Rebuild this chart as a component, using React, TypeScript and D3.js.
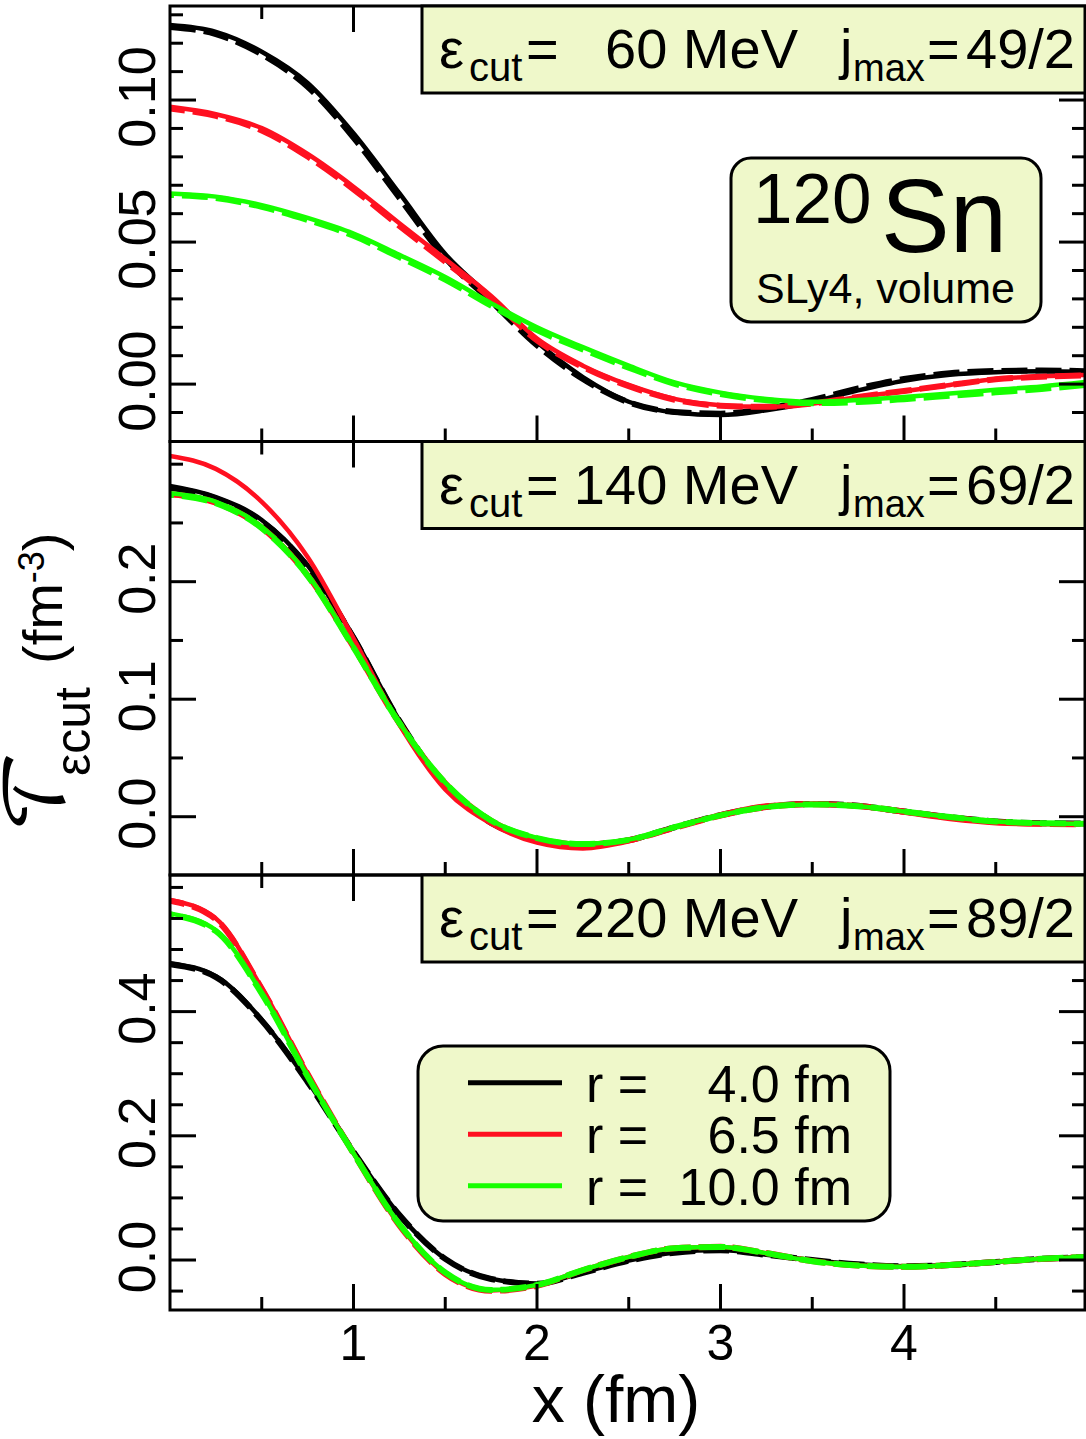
import React from "react";
import * as d3 from "d3";

// Sample positions along x (fm)
const xGrid = [0, 0.25, 0.5, 0.75, 1, 1.25, 1.5, 1.75, 2, 2.25, 2.5, 2.75, 3, 3.25, 3.5, 3.75, 4, 4.25, 4.5, 4.75, 5];

// Panel 1: ecut = 60 MeV
const p1Solid40 = [0.1264, 0.124, 0.117, 0.106, 0.0883, 0.0672, 0.0458, 0.0305, 0.0148, 0.0025, -0.0062, -0.01, -0.0109, -0.0092, -0.0063, -0.0022, 0.0012, 0.0033, 0.0042, 0.0045, 0.0043];
const p1Dash40 = [0.1257, 0.1232, 0.1161, 0.1047, 0.0868, 0.0656, 0.0444, 0.0292, 0.0137, 0.0018, -0.0064, -0.0098, -0.0104, -0.0086, -0.0056, -0.0015, 0.0018, 0.0038, 0.0046, 0.0048, 0.0045];
const p1Solid65 = [0.0976, 0.095, 0.0901, 0.081, 0.0695, 0.0566, 0.044, 0.031, 0.016, 0.0065, -0.0003, -0.0052, -0.0074, -0.008, -0.0069, -0.0045, -0.0025, -0.0003, 0.0018, 0.0027, 0.0032];
const p1Dash65 = [0.097, 0.0944, 0.0893, 0.0801, 0.0686, 0.0557, 0.0431, 0.0302, 0.0154, 0.006, -0.0007, -0.0055, -0.0076, -0.008, -0.0068, -0.0045, -0.0024, -0.0003, 0.0017, 0.0026, 0.0031];
const p1Solid100 = [0.0671, 0.066, 0.063, 0.0585, 0.053, 0.0455, 0.0377, 0.0285, 0.02, 0.013, 0.0065, 0.0006, -0.003, -0.0052, -0.0062, -0.0056, -0.0045, -0.0033, -0.002, -0.0008, 0.0008];
const p1Dash100 = [0.0666, 0.0655, 0.0624, 0.0578, 0.0522, 0.0447, 0.0368, 0.0276, 0.019, 0.0122, 0.0058, 0.0001, -0.0035, -0.0057, -0.0067, -0.0063, -0.0053, -0.0041, -0.0029, -0.0017, -0.0002];

// Panel 2: ecut = 140 MeV
const p2Solid40 = [0.2814, 0.272, 0.2525, 0.214, 0.1532, 0.082, 0.027, -0.005, -0.019, -0.0235, -0.0198, -0.009, 0.0014, 0.0085, 0.0108, 0.0092, 0.0043, -0.0005, -0.004, -0.0055, -0.0058];
const p2Dash40 = [0.28, 0.2708, 0.2512, 0.2128, 0.1522, 0.0815, 0.0268, -0.0052, -0.0192, -0.0237, -0.0199, -0.009, 0.0014, 0.0086, 0.0109, 0.0093, 0.0044, -0.0004, -0.004, -0.0055, -0.0058];
const p2Solid65 = [0.307, 0.296, 0.268, 0.221, 0.1518, 0.0785, 0.0232, -0.006, -0.022, -0.027, -0.021, -0.009, 0.002, 0.0095, 0.0112, 0.009, 0.0035, -0.002, -0.0055, -0.0065, -0.0065];
const p2Dash65 = [0.2745, 0.2672, 0.246, 0.2055, 0.1445, 0.0795, 0.0285, -0.0035, -0.019, -0.0238, -0.02, -0.0094, 0.001, 0.0082, 0.0106, 0.0091, 0.0044, -0.0006, -0.0044, -0.006, -0.0064];
const p2Solid100 = [0.2752, 0.268, 0.2468, 0.206, 0.1447, 0.08, 0.029, -0.003, -0.018, -0.023, -0.0195, -0.0088, 0.0012, 0.0082, 0.0105, 0.009, 0.0045, -0.0003, -0.004, -0.0055, -0.006];
const p2Dash100 = [0.274, 0.2668, 0.2456, 0.205, 0.144, 0.0797, 0.0288, -0.0032, -0.0182, -0.0232, -0.0197, -0.0089, 0.0011, 0.0082, 0.0105, 0.009, 0.0045, -0.0003, -0.004, -0.0055, -0.006];

// Panel 3: ecut = 220 MeV
const p3Solid40 = [0.478, 0.457, 0.387, 0.288, 0.175, 0.073, 0.002, -0.03, -0.038, -0.02, -0.001, 0.012, 0.016, 0.0085, 0.0, -0.007, -0.01, -0.008, -0.003, 0.002, 0.005];
const p3Dash40 = [0.4765, 0.4555, 0.3855, 0.2868, 0.1742, 0.0725, 0.0018, -0.0305, -0.0382, -0.0205, -0.0012, 0.0118, 0.0158, 0.0084, 0.0, -0.007, -0.01, -0.008, -0.0031, 0.0019, 0.0049];
const p3Solid65 = [0.58, 0.55, 0.438, 0.3, 0.172, 0.056, -0.022, -0.049, -0.041, -0.016, 0.005, 0.019, 0.021, 0.011, -0.002, -0.009, -0.011, -0.008, -0.003, 0.002, 0.005];
const p3Dash65 = [0.5785, 0.5485, 0.437, 0.2995, 0.1718, 0.0558, -0.0225, -0.0495, -0.0415, -0.0165, 0.0048, 0.019, 0.0212, 0.0112, -0.0018, -0.009, -0.011, -0.0082, -0.0032, 0.0018, 0.0048];
const p3Solid100 = [0.558, 0.531, 0.43, 0.296, 0.172, 0.058, -0.02, -0.048, -0.04, -0.016, 0.005, 0.019, 0.021, 0.011, -0.002, -0.009, -0.011, -0.008, -0.003, 0.002, 0.005];
const p3Dash100 = [0.5565, 0.5295, 0.429, 0.2955, 0.1718, 0.0578, -0.0202, -0.0483, -0.0403, -0.0162, 0.0049, 0.019, 0.0211, 0.0111, -0.0019, -0.009, -0.011, -0.0081, -0.0031, 0.0019, 0.0049];

// Labels
const radii = ["4.0", "6.5", "10.0"];
const seriesColors = ["#000000", "#ff1020", "#16ff00"];
const cutEnergies = ["60", "140", "220"];
const jMaxValues = ["49/2", "69/2", "89/2"];
const xTickLabels = [1, 2, 3, 4];
const yTicks1 = [0, 0.05, 0.1];
const yTicks2 = [0, 0.1, 0.2];
const yTicks3 = [0, 0.2, 0.4];

const FONT = "'Liberation Sans', Arial, Helvetica, sans-serif";
const BOX_FILL = "#eff8ca";

export default function App() {
  const W = 1086;
  const H = 1439;
  const left = 170;
  const right = 1085;

  const x = d3.scaleLinear().domain([0, 5]).range([left, 1087.5]);

  const panels = [
    {
      top: 6, bottom: 441.5, domain: [-0.0202, 0.1331],
      major: yTicks1, minor: d3.range(-0.01, 0.1305, 0.01), fmt: d3.format(".2f"),
      solid: [p1Solid40, p1Solid65, p1Solid100], dashed: [p1Dash40, p1Dash65, p1Dash100],
    },
    {
      top: 441.5, bottom: 875, domain: [-0.0496, 0.3193],
      major: yTicks2, minor: d3.range(0, 0.301, 0.05), fmt: d3.format(".1f"),
      solid: [p2Solid40, p2Solid65, p2Solid100], dashed: [p2Dash40, p2Dash65, p2Dash100],
    },
    {
      top: 875, bottom: 1310, domain: [-0.0805, 0.62],
      major: yTicks3, minor: d3.range(-0.05, 0.601, 0.05), fmt: d3.format(".1f"),
      solid: [p3Solid40, p3Solid65, p3Solid100], dashed: [p3Dash40, p3Dash65, p3Dash100],
    },
  ];

  const xMajor = xTickLabels;
  const xMinor = [0.5, 1.5, 2.5, 3.5, 4.5];
  const longT = 26;
  const shortT = 13;

  return (
    <svg width={W} height={H} viewBox={`0 0 ${W} ${H}`}
      style={{ position: "absolute", left: 0, top: 0, display: "block", background: "#fff" }}
      fontFamily={FONT}>
      <defs>
        {panels.map((p, i) => (
          <clipPath id={`plot-clip-${i}`} key={i}>
            <rect x={left} y={p.top} width={right - left} height={p.bottom - p.top} />
          </clipPath>
        ))}
      </defs>

      {panels.map((p, pi) => {
        const y = d3.scaleLinear().domain(p.domain).range([p.bottom, p.top]);
        const line = d3.line<number>()
          .x((_, i) => x(xGrid[i]))
          .y((d) => y(d))
          .curve(d3.curveMonotoneX);
        const isMajor = (v: number) => p.major.some((m) => Math.abs(m - v) < 1e-6);
        return (
          <g key={pi}>
            <g clipPath={`url(#plot-clip-${pi})`}>
              {p.solid.map((s, si) => (
                <g key={si}>
                  <path d={line(s) || ""} fill="none" stroke={seriesColors[si]} strokeWidth={4.5} />
                  <path d={line(p.dashed[si]) || ""} fill="none" stroke={seriesColors[si]}
                    strokeWidth={6} strokeDasharray="26 8" strokeDashoffset={si * 11} />
                </g>
              ))}
            </g>
            {/* frame */}
            <rect x={left} y={p.top} width={right - left} height={p.bottom - p.top}
              fill="none" stroke="#000" strokeWidth={3} />
            {/* y ticks, both sides */}
            {p.minor.map((v, k) => {
              const len = isMajor(v) ? longT : shortT;
              const yy = y(v);
              return (
                <g key={k}>
                  <line x1={left} x2={left + len} y1={yy} y2={yy} stroke="#000" strokeWidth={3} />
                  <line x1={right} x2={right - len} y1={yy} y2={yy} stroke="#000" strokeWidth={3} />
                </g>
              );
            })}
            {p.major.map((v, k) => (
              <text key={k} transform={`translate(155, ${y(v) - 3}) rotate(-90)`}
                textAnchor="middle" fontSize={52} fill="#000">{p.fmt(v)}</text>
            ))}
            {/* x ticks on top and bottom */}
            {xMajor.map((v, k) => (
              <g key={`M${k}`}>
                <line x1={x(v)} x2={x(v)} y1={p.top} y2={p.top + longT} stroke="#000" strokeWidth={3} />
                <line x1={x(v)} x2={x(v)} y1={p.bottom} y2={p.bottom - longT} stroke="#000" strokeWidth={3} />
              </g>
            ))}
            {xMinor.map((v, k) => (
              <g key={`m${k}`}>
                <line x1={x(v)} x2={x(v)} y1={p.top} y2={p.top + shortT} stroke="#000" strokeWidth={3} />
                <line x1={x(v)} x2={x(v)} y1={p.bottom} y2={p.bottom - shortT} stroke="#000" strokeWidth={3} />
              </g>
            ))}
            {/* cutoff info box */}
            <g>
              <rect x={422} y={p.top} width={right - 422} height={87} fill={BOX_FILL} stroke="#000" strokeWidth={3} />
              <text x={439} y={p.top + 62} fontSize={56}>ε</text>
              <text x={469} y={p.top + 75} fontSize={40}>cut</text>
              <text x={526} y={p.top + 62} fontSize={56}>=</text>
              <text x={798} y={p.top + 62} fontSize={56} textAnchor="end">{`${cutEnergies[pi]} MeV`}</text>
              <text x={840} y={p.top + 62} fontSize={56}>j</text>
              <text x={853} y={p.top + 75} fontSize={38}>max</text>
              <text x={927} y={p.top + 62} fontSize={56}>=</text>
              <text x={1075} y={p.top + 62} fontSize={56} textAnchor="end">{jMaxValues[pi]}</text>
            </g>
          </g>
        );
      })}

      {/* nucleus label */}
      <g>
        <rect x={731} y={158} width={310} height={164} rx={20} ry={20} fill={BOX_FILL} stroke="#000" strokeWidth={3} />
        <text x={753} y={223} fontSize={71}>120</text>
        <text x={881} y={252} fontSize={103}>Sn</text>
        <text x={756} y={303} fontSize={43}>SLy4, volume</text>
      </g>

      {/* legend */}
      <g>
        <rect x={418} y={1046} width={472} height={175} rx={25} ry={25} fill={BOX_FILL} stroke="#000" strokeWidth={3} />
        {radii.map((r, i) => {
          const ly = 1082.7 + i * 51.5;
          return (
            <g key={i}>
              <line x1={468} x2={562} y1={ly} y2={ly} stroke={seriesColors[i]} strokeWidth={5} />
              <text x={586} y={ly + 19} fontSize={52}>r =</text>
              <text x={852} y={ly + 19} fontSize={52} textAnchor="end">{`${r} fm`}</text>
            </g>
          );
        })}
      </g>

      {/* x axis labels */}
      {xTickLabels.map((v, k) => (
        <text key={k} x={x(v)} y={1360} fontSize={50} textAnchor="middle">{v}</text>
      ))}
      <text x={616} y={1422} fontSize={66} textAnchor="middle">x (fm)</text>

      {/* y axis title */}
      <text transform="translate(64, 832) rotate(-90)" fontSize={80}
        fontFamily="'DejaVu Math TeX Gyre', 'DejaVu Serif', serif">𝒯</text>
      <text transform="translate(90, 776) rotate(-90)" fontSize={50}>εcut</text>
      <text transform="translate(62, 664) rotate(-90)" fontSize={56}>
        (fm<tspan fontSize={36} dy={-18}>-3</tspan><tspan dy={18}>)</tspan>
      </text>
    </svg>
  );
}
